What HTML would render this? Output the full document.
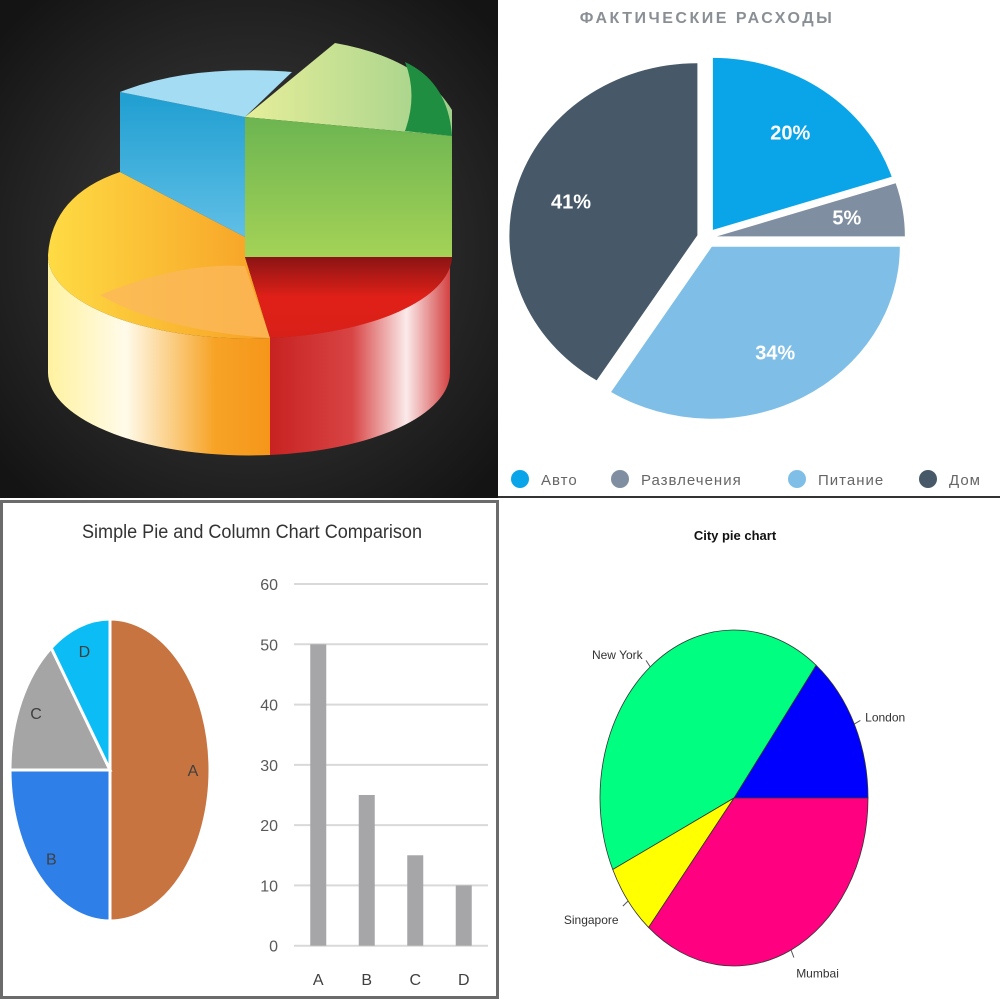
<!DOCTYPE html>
<html><head><meta charset="utf-8"><style>
html,body{margin:0;padding:0;background:#fff}
svg{display:block}
text{font-family:"Liberation Sans","DejaVu Sans",sans-serif}
</style></head><body>
<svg id="root" width="1000" height="1000" viewBox="0 0 1000 1000">
<defs>
<radialGradient id="bg" cx="250" cy="250" r="330" gradientUnits="userSpaceOnUse"><stop offset="0" stop-color="#444"/><stop offset="1" stop-color="#141414"/></radialGradient>
<linearGradient id="orSide" x1="48" x2="270" gradientUnits="userSpaceOnUse"><stop offset="0" stop-color="#fff2a0"/><stop offset="0.35" stop-color="#fffbea"/><stop offset="0.75" stop-color="#f7a326"/><stop offset="1" stop-color="#f5961a"/></linearGradient>
<linearGradient id="redSide" x1="270" x2="452" gradientUnits="userSpaceOnUse"><stop offset="0" stop-color="#c82222"/><stop offset="0.45" stop-color="#d84444"/><stop offset="0.75" stop-color="#fbeaea"/><stop offset="1" stop-color="#d23a3a"/></linearGradient>
<linearGradient id="orTop" x1="48" x2="270" gradientUnits="userSpaceOnUse"><stop offset="0" stop-color="#fedb44"/><stop offset="1" stop-color="#f7a025"/></linearGradient>
<linearGradient id="redTop" x1="0" y1="257" x2="0" y2="338" gradientUnits="userSpaceOnUse"><stop offset="0" stop-color="#8a1414"/><stop offset="0.5" stop-color="#e02018"/><stop offset="1" stop-color="#d82018"/></linearGradient>
<linearGradient id="blueSide" x1="0" y1="100" x2="0" y2="237" gradientUnits="userSpaceOnUse"><stop offset="0" stop-color="#22a0d2"/><stop offset="1" stop-color="#60bfe6"/></linearGradient>
<linearGradient id="greenFront" x1="0" y1="117" x2="0" y2="257" gradientUnits="userSpaceOnUse"><stop offset="0" stop-color="#6cb552"/><stop offset="1" stop-color="#a4d256"/></linearGradient>
<linearGradient id="greenTop" x1="245" x2="452" gradientUnits="userSpaceOnUse"><stop offset="0" stop-color="#e6ee9a"/><stop offset="1" stop-color="#9fd08a"/></linearGradient>
</defs>

<g>
<rect x="0" y="0" width="498" height="498" fill="url(#bg)"/>
<path d="M48,255 L48,372 A201,83 0 0 0 270,455 L270,338 A201,83 0 0 1 48,255 Z" fill="url(#orSide)"/>
<path d="M270,338 L270,455 A201,83 0 0 0 450,372 L450,255 A201,83 0 0 1 270,338 Z" fill="url(#redSide)"/>
<path d="M120,172 L245,237 L245,257 L270,338 A201,83 0 0 1 48,255 Q52,195 120,172 Z" fill="url(#orTop)"/>
<path d="M100,295 Q180,262 245,266 L270,338 Q160,330 100,295 Z" fill="#fbb85a" opacity="0.8"/>
<path d="M245,257 L452,257 A201,83 0 0 1 270,338 Z" fill="url(#redTop)"/>
<path d="M120,92 L245,117 L245,237 L120,172 Z" fill="url(#blueSide)"/>
<path d="M120,92 Q190,64 292,72 L245,117 Z" fill="#a4dcf3"/>
<path d="M245,117 L335,43 Q420,58 452,110 L452,136 Z" fill="url(#greenTop)"/>
<path d="M405,62 Q448,82 452,136 L405,131 Q418,95 405,62 Z" fill="#1f8e40"/>
<path d="M245,117 L452,136 L452,257 L245,257 Z" fill="url(#greenFront)"/>
</g>

<g id="p2">
<rect x="498" y="0" width="502" height="498" fill="#fff"/>
<line x1="498" y1="497" x2="1000" y2="497" stroke="#333" stroke-width="2"/>
<text x="707" y="23" text-anchor="middle" font-size="16" font-weight="bold" fill="#8a8f96" letter-spacing="2.5">ФАКТИЧЕСКИЕ РАСХОДЫ</text>
</g>

<g id="p3">
<rect x="1.5" y="501.5" width="496" height="496" fill="#fff" stroke="#6b6b6b" stroke-width="3"/>
<text x="252" y="538" text-anchor="middle" font-size="19" fill="#333" textLength="340" lengthAdjust="spacingAndGlyphs">Simple Pie and Column Chart Comparison</text>
</g>

<g id="p4">
<text x="735" y="540" text-anchor="middle" font-size="13" font-weight="bold" fill="#111">City pie chart</text>
</g>
</svg>
<script>
const expCats = ["Авто","Развлечения","Питание","Дом"];
const expVals = [20,5,34,41];
const expLabels = ["20%","5%","34%","41%"];
const expColors = ["#0aa5e9","#7f8fa1","#7fbfe7","#475869"];
const cmpCats = ["A","B","C","D"];
const cmpVals = [50,25,15,10];
const cmpColors = ["#c87441","#2f7fe8","#a5a5a5","#0bbcf5"];
const cmpTicks = [0,10,20,30,40,50,60];
const cityCats = ["London","New York","Singapore","Mumbai"];
const cityVals = [14.5,42.5,7,36];
const cityColors = ["#0000ff","#00ff80","#ffff00","#ff0080"];

const NS="http://www.w3.org/2000/svg";
function mk(tag,attrs,parent){const e=document.createElementNS(NS,tag);for(const k in attrs)e.setAttribute(k,attrs[k]);parent.appendChild(e);return e;}

(function(){
  const g=document.getElementById('p2');
  const cx=707,cy=238,rx=188,ry=172,off=10;
  const tot=expVals.reduce((a,b)=>a+b,0);
  let a0=0;
  expVals.forEach((v,i)=>{
    const a1=a0+v/tot*2*Math.PI, am=(a0+a1)/2;
    const ox=cx+off*Math.sin(am), oy=cy-off*Math.cos(am);
    const p=(a)=>[ox+rx*Math.sin(a), oy-ry*Math.cos(a)];
    const s=p(a0),e=p(a1),lg=(a1-a0)>Math.PI?1:0;
    const path=mk('path',{d:`M${ox},${oy} L${s[0]},${s[1]} A${rx},${ry} 0 ${lg} 1 ${e[0]},${e[1]} Z`,fill:expColors[i]},g);
    
    
    const k=0.7;
    const t=mk('text',{x:ox+k*rx*Math.sin(am),y:oy-k*ry*Math.cos(am)+7,'text-anchor':'middle','font-size':'20','font-weight':'bold',fill:'#fff'},g);
    t.textContent=expLabels[i];
    
    
    a0=a1;
  });
  const lx=[520,620,797,928];
  expCats.forEach((c,i)=>{
    const ci=mk('circle',{cx:lx[i],cy:479,r:9,fill:expColors[i]},g);
    
    
    const t=mk('text',{x:lx[i]+21,y:485,'font-size':'15',fill:'#666','letter-spacing':'1'},g);
    t.textContent=c;
    
    
  });
})();

(function(){
  const g=document.getElementById('p3');
  const cx=110,cy=770,rx=100,ry=151;
  const tot=cmpVals.reduce((a,b)=>a+b,0);
  let a0=0;
  cmpVals.forEach((v,i)=>{
    const a1=a0+v/tot*2*Math.PI, am=(a0+a1)/2;
    const p=(a)=>[cx+rx*Math.sin(a), cy-ry*Math.cos(a)];
    const s=p(a0),e=p(a1),lg=(a1-a0)>Math.PI?1:0;
    const path=mk('path',{d:`M${cx},${cy} L${s[0]},${s[1]} A${rx},${ry} 0 ${lg} 1 ${e[0]},${e[1]} Z`,fill:cmpColors[i],stroke:'#fff','stroke-width':'3'},g);
    
    
    const t=mk('text',{x:cx+0.83*rx*Math.sin(am),y:cy-0.83*ry*Math.cos(am)+6,'text-anchor':'middle','font-size':'16',fill:'#404040'},g);
    t.textContent=cmpCats[i];
    
    
    a0=a1;
  });
  const y0=945.7, yTop=584, vmax=60;
  const yS=v=>y0-(v/vmax)*(y0-yTop);
  const x0=294,x1=488, step=(x1-x0)/cmpCats.length;
  const xS=i=>x0+step*(i+0.5);
  cmpTicks.forEach(tk=>{
    const l=mk('line',{x1:x0,x2:x1,y1:yS(tk),y2:yS(tk),stroke:'#d9d9d9','stroke-width':'2'},g);
    
    
    const t=mk('text',{x:278,y:yS(tk)+6,'text-anchor':'end','font-size':'16',fill:'#595959'},g);
    t.textContent=tk;
    
    
  });
  cmpVals.forEach((v,i)=>{
    const b=mk('rect',{x:xS(i)-8,y:yS(v),width:16,height:y0-yS(v),fill:'#a6a6a8'},g);
    
    
    const t=mk('text',{x:xS(i),y:985,'text-anchor':'middle','font-size':'16',fill:'#404040'},g);
    t.textContent=cmpCats[i];
    
    
  });
})();

(function(){
  const g=document.getElementById('p4');
  const cx=734,cy=798,rx=134,ry=168;
  const tot=cityVals.reduce((a,b)=>a+b,0);
  let a0=0;
  cityVals.forEach((v,i)=>{
    const a1=a0+v/tot*2*Math.PI, am=(a0+a1)/2;
    const p=(a,k)=>[cx+k*rx*Math.cos(a), cy-k*ry*Math.sin(a)];
    const s=p(a0,1),e=p(a1,1),lg=(a1-a0)>Math.PI?1:0;
    const path=mk('path',{d:`M${cx},${cy} L${s[0]},${s[1]} A${rx},${ry} 0 ${lg} 0 ${e[0]},${e[1]} Z`,fill:cityColors[i],stroke:'#333','stroke-width':'0.8'},g);
    
    
    const q1=p(am,1),q2=p(am,1.05),q3=p(am,1.09);
    const tl=mk('line',{x1:q1[0],y1:q1[1],x2:q2[0],y2:q2[1],stroke:'#555','stroke-width':'1'},g);
    
    
    const anchor=Math.cos(am)>0.1?'start':(Math.cos(am)<-0.1?'end':'middle');
    const t=mk('text',{x:q3[0],y:q3[1]+(Math.sin(am)<-0.5?14:4),'text-anchor':anchor,'font-size':'12',fill:'#333'},g);
    t.textContent=cityCats[i];
    
    
    a0=a1;
  });
})();
</script>
</body></html>
